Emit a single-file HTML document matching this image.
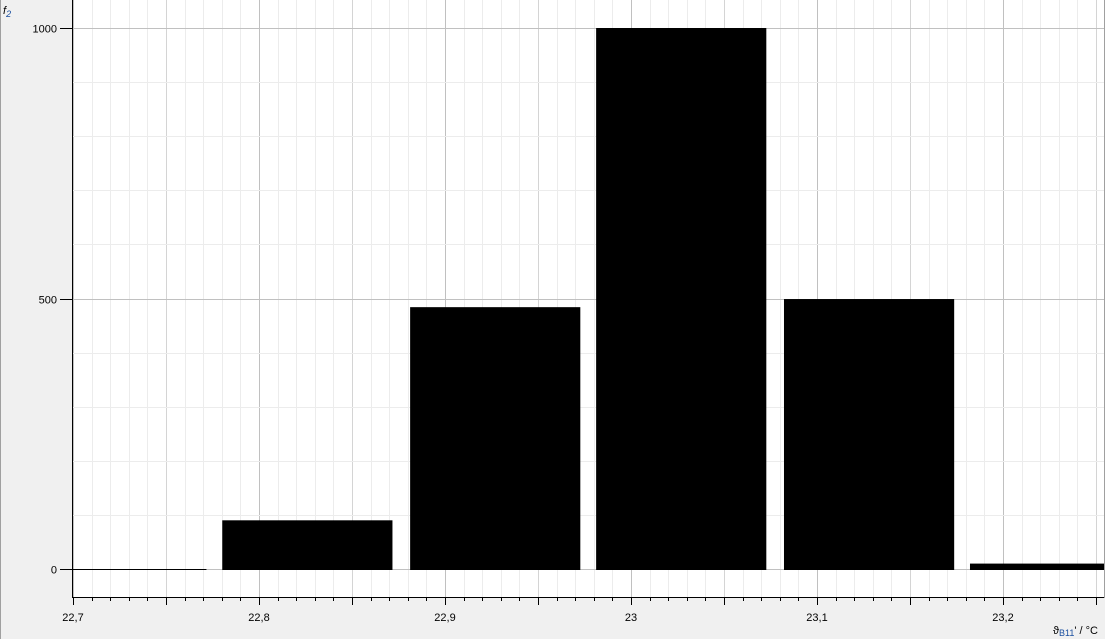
<!DOCTYPE html>
<html><head><meta charset="utf-8"><style>
body{margin:0;width:1105px;height:639px;background:#f0f0f0;overflow:hidden;font-family:"Liberation Sans",sans-serif}
svg{position:absolute;left:0;top:0}
</style></head><body>
<svg id="c" width="1105" height="639">
<line x1="0.5" y1="0" x2="0.5" y2="639" stroke="#a0a0a0"/>
<rect x="73" y="0" width="1031" height="597" fill="#fff"/>
<g id="grid"></g><g id="bars"></g><g id="axes"></g>
<text x="3" y="14" font-size="11" font-style="italic">f<tspan font-size="9" dy="3" fill="#1a4fa0">2</tspan></text>
<text x="1053" y="634" font-size="11">ϑ<tspan font-size="9" dy="2" fill="#1a4fa0">B11</tspan><tspan dy="-2">' / °C</tspan></text>
</svg>
<script>
const binCenters=[22.726,22.826,22.927,23.027,23.128,23.228];
const counts=[0,90,484,1000,499,10];
const xTicks=[22.7,22.8,22.9,23.0,23.1,23.2];
const xTickLabels=["22,7","22,8","22,9","23","23,1","23,2"];
const yTicks=[0,500,1000];
const binWidth=0.0915;
const X0=73,X1=1104,Y0=0,Y1=597;
function sx(v){return 73+(v-22.7)*1860;}
function sy(v){return 569-v*0.541;}
const NS="http://www.w3.org/2000/svg";
function mk(p,t,a){const e=document.createElementNS(NS,t);for(const k in a)e.setAttribute(k,a[k]);document.getElementById(p).appendChild(e);return e;}
for(let i=0;i<=56;i++){const v=22.7+i*0.01;const x=Math.round(sx(v))+0.5;if(x>X1)break;
 const maj=i%10===0,mid=i%5===0;
 const g=mk('grid','line',{x1:x,y1:0,x2:x,y2:Y1,stroke:maj?'#c0c0c0':(mid?'#d4d4d4':'#ececec')});
 
 
 const t=mk('axes','line',{x1:x,y1:Y1,x2:x,y2:Y1+(mid?8:4),stroke:'#000'});
 
 }
for(let v=-100;v<=1100;v+=100){const y=Math.round(sy(v))+0.5;if(y<0||y>Y1)continue;
 const g=mk('grid','line',{x1:X0,y1:y,x2:X1,y2:y,stroke:v%500===0?'#c0c0c0':'#ececec'});
 
 }
binCenters.forEach((c,i)=>{let l=sx(c-binWidth/2),r=sx(c+binWidth/2);l=Math.max(l,X0);r=Math.min(r,X1);
 const top=Math.min(sy(counts[i]),569);
 const b=mk('bars','rect',{x:l,y:top,width:r-l,height:570-top,fill:'#000'});
 
 });
mk('axes','line',{x1:72.5,y1:0,x2:72.5,y2:598,stroke:'#000'});
mk('axes','line',{x1:72,y1:597.5,x2:1104,y2:597.5,stroke:'#000'});
mk('axes','line',{x1:1104.5,y1:0,x2:1104.5,y2:598,stroke:'#a0a0a0'});
yTicks.forEach(v=>{const y=Math.round(sy(v))+0.5;
 mk('axes','line',{x1:60,y1:y,x2:72,y2:y,stroke:'#000'});
 const t=mk('axes','text',{x:57,y:y+4,'font-size':11,'text-anchor':'end'});t.textContent=v;
 
 });
xTicks.forEach((v,i)=>{const t=mk('axes','text',{x:sx(v),y:621,'font-size':11,'text-anchor':'middle'});t.textContent=xTickLabels[i];
 
 });
</script>
</body></html>
